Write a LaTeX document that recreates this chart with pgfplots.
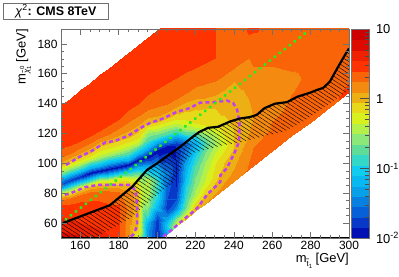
\documentclass[border=0pt]{standalone}
\usepackage{fontspec}
\setmainfont{Liberation Sans}
\usepackage{pgfplots}
\pgfplotsset{compat=1.18}
\usetikzlibrary{patterns.meta}
\definecolor{frameg}{HTML}{707070}
\definecolor{purp}{HTML}{C040F0}
\definecolor{grn}{HTML}{22EE22}
\pgfplotsset{colormap={bands}{
rgb255(0)=(0,16,180) rgb255(0.98)=(0,16,180)
rgb255(1)=(8,56,200) rgb255(1.98)=(8,56,200)
rgb255(2)=(8,96,216) rgb255(2.98)=(8,96,216)
rgb255(3)=(8,128,224) rgb255(3.98)=(8,128,224)
rgb255(4)=(8,160,232) rgb255(4.98)=(8,160,232)
rgb255(5)=(8,184,240) rgb255(5.98)=(8,184,240)
rgb255(6)=(16,204,240) rgb255(6.98)=(16,204,240)
rgb255(7)=(52,216,200) rgb255(7.98)=(52,216,200)
rgb255(8)=(95,220,152) rgb255(8.98)=(95,220,152)
rgb255(9)=(140,232,120) rgb255(9.98)=(140,232,120)
rgb255(10)=(180,240,74) rgb255(10.98)=(180,240,74)
rgb255(11)=(216,240,30) rgb255(11.98)=(216,240,30)
rgb255(12)=(232,216,26) rgb255(12.98)=(232,216,26)
rgb255(13)=(236,176,21) rgb255(13.98)=(236,176,21)
rgb255(14)=(245,138,16) rgb255(14.98)=(245,138,16)
rgb255(15)=(250,100,8) rgb255(15.98)=(250,100,8)
rgb255(16)=(255,51,0) rgb255(16.98)=(255,51,0)
rgb255(17)=(238,34,0) rgb255(17.98)=(238,34,0)
rgb255(18)=(221,10,0) rgb255(18.98)=(221,10,0)
rgb255(19)=(204,0,0) rgb255(20)=(204,0,0)
}}
\begin{document}
\begin{tikzpicture}
\useasboundingbox (-61bp,-39bp) rectangle (338bp,238bp);
\begin{axis}[
  at={(0,0)},anchor=south west,scale only axis,width=288bp,height=209bp,
  xmin=150,xmax=300,ymin=50,ymax=190,
  xtick={160,180,...,300},ytick={60,80,...,180},
  minor x tick num=3,minor y tick num=3,
  tick align=inside,major tick length=6bp,minor tick length=3bp,
  tick style={color=frameg,line width=.6bp},
  axis line style={color=frameg,line width=.8bp},
  axis on top,
  /pgf/number format/assume math mode=true,
  tick label style={font=\fontsize{12}{12}\selectfont},
  colormap name=bands,point meta min=0,point meta max=20,
  colorbar sampled,
  colorbar style={samples=21,at={(parent axis.north east)},anchor=north west,xshift=-6bp,
    scale only axis,width=18bp,height=209bp,
    ytick={0,6.667,13.333,20},yticklabels={10\textsuperscript{-2},10\textsuperscript{-1},1,10},
    minor ytick={2.007,3.181,4.013,4.66,5.19,5.64,6.02,6.36,8.674,9.848,10.68,11.327,11.857,12.307,12.687,13.027,15.34,16.515,17.347,17.993,18.523,18.973,19.353,19.693},
    ytick pos=right,yticklabel pos=right,tick align=inside,
    major tick length=10bp,minor tick length=5bp,
    tick style={color=black!70,line width=.5bp},
    axis line style={color=frameg,line width=.6bp},
    yticklabel style={font=\fontsize{13}{13}\selectfont,xshift=3bp},
  },
]
% colour level index (20 log-spaced levels of chi2 from 0.01 to 10), read column by column
\addplot[surf,shader=interp,mesh/rows=19,mesh/cols=25,mesh/ordering=y varies,point meta=explicit]
table[meta=L,row sep=crcr]{
x y L\\
150 50 18.5\\150 64 17\\150 72 16\\150 75.5 15\\150 78 13.33\\150 80 11\\150 82 8\\150 83.5 5\\150 86.5 2\\150 89.5 5\\150 92 8\\150 95 10.5\\150 97.5 12\\150 99 13.33\\150 101 14\\150 104 15\\150 110 16\\150 125 16\\150 139 16\\
155 50 18.3\\155 62 17\\155 73 16\\155 76.5 15\\155 79 13.33\\155 81.5 11\\155 84 8\\155 86 5\\155 89 1.5\\155 92.5 5\\155 95 8\\155 97.5 10.5\\155 100 12\\155 102 13.33\\155 104 14\\155 107 15\\155 112 16\\155 130 16\\155 144 16\\
160 50 18.2\\160 60 17\\160 74 16\\160 78.5 15\\160 81.5 13.33\\160 84 11\\160 86 8\\160 88 5\\160 91 1\\160 94.5 5\\160 97 8\\160 99.5 10.5\\160 102.5 12\\160 104.6 13.33\\160 107 14\\160 110.5 15\\160 115 16\\160 135 16\\160 149 16\\
165 50 18\\165 58 17\\165 75 16\\165 80.5 15\\165 84 13.33\\165 86.5 11\\165 88.5 8\\165 90.3 5\\165 93.3 .4\\165 97 5\\165 100 8\\165 102.5 10.5\\165 105 12\\165 107.5 13.33\\165 110 14\\165 113.5 15\\165 118.5 16\\165 140 16\\165 154 16\\
170 50 17.6\\170 56 17\\170 75 16\\170 81.5 15\\170 85.6 13.33\\170 88 11\\170 90 8\\170 92 5\\170 95 .4\\170 98.5 5\\170 101.5 8\\170 104.5 10.5\\170 108 12\\170 112 13.33\\170 114 14\\170 117 15\\170 122 16\\170 145 16\\170 159 16\\
175 50 17.2\\175 52 17\\175 73 16\\175 81.5 15\\175 85.6 13.33\\175 89 11\\175 91 8\\175 93 5\\175 96.3 .4\\175 100 5\\175 103.5 8\\175 106.5 10.5\\175 110.5 12\\175 114.5 13.33\\175 116.5 14\\175 120 15\\175 126 16\\175 150 16\\175 164 16\\
180 50 16\\180 60 16\\180 72 16\\180 81 15\\180 85.6 13.33\\180 90 11\\180 92 8\\180 94.3 5\\180 97.5 .4\\180 101.5 5\\180 105 8\\180 108 10.5\\180 112 12\\180 116.5 13.33\\180 119 14\\180 124 15\\180 130 16\\180 155 16\\180 169 16\\
185 50 14.5\\185 60 14.5\\185 70 14.8\\185 78 15\\185 85.6 13.33\\185 90.5 11\\185 93 8\\185 95.8 5\\185 99 .4\\185 102.5 5\\185 106 8\\185 110 10.5\\185 114.5 12\\185 118.5 13.33\\185 121.5 14\\185 128 15\\185 136 16\\185 160 16\\185 174 16\\
190 50 11\\190 57 12.8\\190 70 13.2\\190 80 13.2\\190 86 12.3\\190 90 10.8\\190 94 8\\190 97.5 5\\190 102 .4\\190 106 5\\190 110 8\\190 113 10.5\\190 117 12\\190 122.5 13.33\\190 125.5 14\\190 132 15\\190 140 16\\190 165 16\\190 179 16\\
195 50 5\\195 55 4.5\\195 60 5.5\\195 65 8\\195 72 10\\195 82 11\\195 89 10.8\\195 98 5\\195 104.5 .4\\195 109.5 5\\195 115 8\\195 121.5 10.5\\195 124.5 12\\195 127 13.33\\195 130.5 14\\195 135.5 15\\195 146 16\\195 170 16\\195 184 16\\
200 48 1\\200 55 1\\200 62 1.5\\200 66 3\\200 70 5.5\\200 78 7.2\\200 88 8\\200 96 5.5\\200 108 .4\\200 114 5\\200 117.5 8\\200 122.5 10.5\\200 125.5 12\\200 128.5 13.33\\200 132 14\\200 138 15\\200 150 16\\200 175 16\\200 189 16\\
205 53 5\\205 58 6.5\\205 62 5\\205 66 3\\205 70 1.3\\205 76 2\\205 84 2.5\\205 92 3.5\\205 111 .4\\205 116.5 5\\205 120 8\\205 124.5 10.5\\205 127.5 12\\205 131 13.33\\205 134.5 14\\205 140 15\\205 153.5 16\\205 180 16\\205 194 16\\
210 58 11.5\\210 62 9.5\\210 66 6.5\\210 70 3.5\\210 76 2\\210 84 1\\210 92 .8\\210 102 1\\210 112 1\\210 118 5\\210 122 8\\210 126 10.5\\210 129.5 12\\210 134.5 13.33\\210 138 14\\210 143 15\\210 157 16\\210 185 16\\210 199 16\\
215 63 13.5\\215 66 11\\215 70 9\\215 76 8\\215 84 7\\215 90 6\\215 98 5\\215 106 3.5\\215 113 2.5\\215 116 5\\215 120 8\\215 124 10.5\\215 129 12\\215 137 13.33\\215 141 14\\215 147 15\\215 161 16\\215 190 16\\215 204 16\\
220 68 13.8\\220 71 13\\220 75 11.5\\220 80 10.2\\220 85 9.5\\220 90 9\\220 98 8\\220 106 6.5\\220 113 5\\220 115 5.5\\220 119.5 8\\220 123 10.5\\220 127 12\\220 139 13.33\\220 143 14\\220 151 15\\220 164 16\\220 195 16\\220 209 16\\
225 73 14\\225 77 13.4\\225 80 12.6\\225 84 11.8\\225 88 11\\225 93 10.7\\225 100 10\\225 107 9\\225 113 8\\225 115 8.5\\225 117 9\\225 122 10.5\\225 126 12\\225 140.5 13.33\\225 144 14\\225 153 15\\225 167 16\\225 200 16\\225 214 16\\
230 78 14.2\\230 81 13.8\\230 84 13.33\\230 87 13\\230 90 12.6\\230 95 12.2\\230 100 11.9\\230 107 11\\230 113 10\\230 115 10.2\\230 118 10.4\\230 121 11\\230 125 12\\230 141 13.33\\230 146 14\\230 155 15\\230 170.5 16\\230 205 16\\230 219 16\\
235 83 14.4\\235 87 14\\235 91 13.6\\235 94 13.33\\235 97 13.2\\235 100 13\\235 104 12.6\\235 108 12\\235 113 11.5\\235 116 11.7\\235 119 12\\235 122 12.3\\235 127 12.8\\235 141.8 13.33\\235 149 14\\235 159 15\\235 178 15.8\\235 190 15.9\\235 224 15.9\\
240 88 14.7\\240 92 14.3\\240 96 14\\240 100 13.8\\240 103 13.6\\240 106 13.33\\240 108 13.2\\240 110 13.1\\240 113 13\\240 116 13\\240 120 13\\240 125 13.1\\240 130 13.2\\240 140 13.4\\240 155 14\\240 164 15\\240 175 15.4\\240 190 15.6\\240 229 15.6\\
250 98 15.3\\250 101 15.3\\250 104 15.2\\250 107 15.1\\250 110 15\\250 113 14.9\\250 116 14.7\\250 120 14.4\\250 125 14.2\\250 130 14\\250 140 14.1\\250 150 14.3\\250 160 14.6\\250 165 15\\250 175 15.3\\250 185 15.8\\250 190 16.2\\250 200 15.5\\250 239 15.5\\
260 108 15.3\\260 112 15.3\\260 116 15.2\\260 120 15.1\\260 124 15\\260 128 15\\260 132 14.7\\260 136 14.4\\260 140 14.2\\260 145 14.1\\260 150 14.2\\260 155 14.4\\260 160 14.7\\260 165 15\\260 170 15.1\\260 178 15.2\\260 190 15.6\\260 200 15.7\\260 249 15.7\\
270 118 15.5\\270 122 15.4\\270 126 15.4\\270 130 15.3\\270 134 15.2\\270 138 15.2\\270 142 15.1\\270 146 15\\270 148 14.9\\270 152 14.7\\270 155 14.8\\270 158 14.9\\270 162 15\\270 166 15.1\\270 172 15.2\\270 180 15.3\\270 190 15.4\\270 210 15.5\\270 259 15.5\\
280 128 15.7\\280 132 15.6\\280 136 15.5\\280 140 15.5\\280 144 15.4\\280 148 15.3\\280 152 15.3\\280 156 15.3\\280 160 15.3\\280 165 15.3\\280 170 15.3\\280 175 15.3\\280 180 15.3\\280 185 15.4\\280 190 15.4\\280 195 15.4\\280 200 15.5\\280 230 15.5\\280 269 15.5\\
290 138 15.8\\290 142 15.8\\290 146 15.7\\290 150 15.6\\290 154 15.5\\290 158 15.4\\290 162 15.4\\290 166 15.3\\290 170 15.3\\290 174 15.3\\290 178 15.3\\290 182 15.3\\290 186 15.3\\290 190 15.4\\290 195 15.4\\290 200 15.4\\290 210 15.5\\290 240 15.5\\290 279 15.5\\
300 148 16.2\\300 151 16.1\\300 154 16\\300 157 15.8\\300 160 15.6\\300 163 15.5\\300 166 15.4\\300 170 15.3\\300 174 15.3\\300 178 15.3\\300 182 15.3\\300 186 15.3\\300 190 15.3\\300 194 15.4\\300 198 15.4\\300 205 15.4\\300 215 15.5\\300 250 15.5\\300 289 15.5\\
};
% hatched side of the exclusion curve
\addplot[draw=none,pattern={Lines[angle=-33,distance=3.4bp,line width=.4bp]},pattern color=black] coordinates {
(150,59.5)(175.5,72)(187,84.2)(194.8,95.6)(200,100)(210.4,109.5)(213.5,112.5)(218.8,118)(222,121)(226.6,123.8)(231.8,124.5)(238,128)(243,130)(248.4,131)(252,132.5)(256,137)(261.5,140)(267.7,141)(273,144.6)(279.7,147.3)(283,149)(286.6,150.6)(290,154.7)(294.4,164.8)(298,172.8)(300,177)
(300,149)(288.6,139)(276,128)(265.6,121)(255,118)(243,114)(234,112)(218.8,107)(213.5,100)(209.4,88)(203,82)(197,75.5)(190,67.5)(186,63.4)(177,56.7)(165,48)(150,42)};
% purple contours
\addplot[purp,line width=2.5bp,dash pattern=on 4bp off 3bp] coordinates {
(152.6,99)(160,104.6)(165.6,108)(173,114)(178,115)(185,118.5)(191.8,124)(196.3,127)(203,130)(210.4,134.5)(217,137)(222.4,140.6)(229,141)(236.5,142)(239.6,140.5)(241.7,136)(243,127)(242.7,114.4)(240.6,107.7)(236.5,97)(233,92)(233,87.6)(226,79)(221,70)(213.5,62)(207,54.7)(203,50.7)};
\addplot[purp,line width=2.5bp,dash pattern=on 4bp off 3bp] coordinates {
(152,79)(155,80)(162.5,84)(169.3,85.6)(176,85.6)(186.5,85.6)(189,81)(189.6,71)(189.6,57.6)(187.5,52)(185,50)};
% black curve
\addplot[black,line width=2.2bp] coordinates {
(150,59.5)(175.5,72)(187,84.2)(194.8,95.6)(200,100)(210.4,109.5)(213.5,112.5)(218.8,118)(222,121)(226.6,123.8)(231.8,124.5)(238,128)(243,130)(248.4,131)(252,132.5)(256,137)(261.5,140)(267.7,141)(273,144.6)(279.7,147.3)(283,149)(286.6,150.6)(290,154.7)(294.4,164.8)(298,172.8)(300,177)};
% green dotted line
\addplot[grn,line width=3.4bp,line cap=round,dash pattern=on .1bp off 6.2bp] coordinates {(150,60)(279,189)};
\draw[black,line width=1.5bp] (rel axis cs:0,1) -- (rel axis cs:0,0) -- (rel axis cs:1,0);
\end{axis}
\node[draw=frameg,fill=white,line width=.8bp,minimum width=105bp,minimum height=16bp,inner sep=0pt,anchor=north west,font=\fontsize{12.5}{12.5}\selectfont] at (-58bp,235bp) {\textit{χ}\textsuperscript{2}\textbf{: CMS 8TeV}};
\node[anchor=north east,inner sep=0pt,font=\fontsize{13}{13}\selectfont] at (288bp,-15bp) {m\raisebox{-3.5bp}{\fontsize{8}{8}\selectfont\~{t}\raisebox{-2bp}{\fontsize{6}{6}\selectfont 1}} [GeV]};
\node[anchor=north east,inner sep=0pt,rotate=90,font=\fontsize{13}{13}\selectfont] at (-45bp,209bp) {m\raisebox{-3.5bp}{\fontsize{8}{8}\selectfont\textit{\~{χ}}\raisebox{-2bp}{\fontsize{6}{6}\selectfont 1}\kern-3bp\raisebox{5bp}{\fontsize{6}{6}\selectfont 0}} [GeV]};
\end{tikzpicture}
\end{document}
